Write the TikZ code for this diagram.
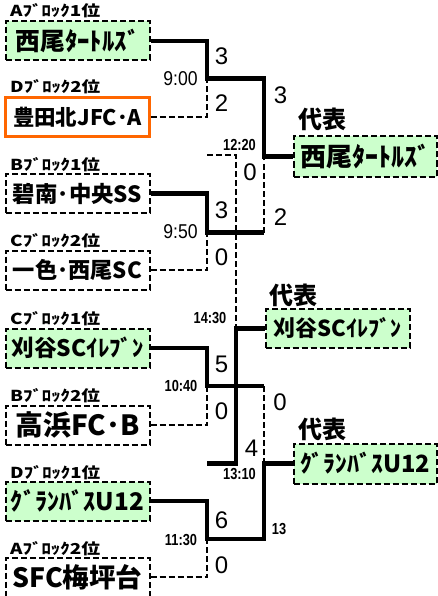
\documentclass[tikz,border=0pt]{standalone}
\usepackage{graphicx}
\usepackage{fontspec}
\setmainfont{Noto Sans CJK JP}
\newfontfamily\lib{Liberation Sans}
\definecolor{boxgreen}{HTML}{CCFFCC}
\definecolor{orangeb}{HTML}{FF6600}
\newcommand{\nm}[2]{\resizebox{#1pt}{!}{\bfseries\fontsize{22}{22}\selectfont #2}}
\newcommand{\blab}[1]{\resizebox{90pt}{13pt}{\bfseries\fontsize{13}{13}\selectfont #1}}
\newcommand{\tbig}[1]{\scalebox{0.88}[1]{\lib\fontsize{20}{20}\selectfont #1}}
\newcommand{\tsm}[1]{\scalebox{0.8}[1]{\lib\bfseries\fontsize{16}{16}\selectfont #1}}
\tikzset{
  win/.style={line width=4.5pt},
  lose/.style={line width=2pt, dash pattern=on 6pt off 3pt},
  team/.style={draw, line width=2pt, dash pattern=on 6pt off 3pt, minimum width=144pt, minimum height=39pt, inner sep=0pt},
  grn/.style={fill=boxgreen},
  blk/.style={anchor=west, inner sep=0pt},
  lbl/.style={inner sep=0pt},
  score/.style={inner sep=0pt, font=\lib\fontsize{24}{24}\selectfont},
  rep/.style={inner sep=0pt, font=\bfseries\fontsize{24}{24}\selectfont},
}
\begin{document}
\begin{tikzpicture}[x=1pt, y=-1pt]
\useasboundingbox (0,0) rectangle (438,596);
% team boxes
\node[team, grn] (t1) at (77.5,41) {\nm{124}{西尾ﾀｰﾄﾙｽﾞ}};
\node[team, draw=orangeb, solid, line width=2.5pt] (t2) at (77.5,117) {\nm{129}{豊田北JFC･A}};
\node[team] (t3) at (77.5,193.5) {\nm{129}{碧南･中央SS}};
\node[team] (t4) at (77.5,270) {\nm{129}{一色･西尾SC}};
\node[team, grn] (t5) at (77.5,348) {\nm{132}{刈谷SCｲﾚﾌﾞﾝ}};
\node[team] (t6) at (77.5,425) {\nm{124}{高浜FC･B}};
\node[team, grn] (t7) at (77.5,501) {\nm{133}{ｸﾞﾗﾝﾊﾞｽU12}};
\node[team] (t8) at (77.5,577) {\nm{130}{SFC梅坪台}};
% block labels
\node[blk] (l1) at (10,10.5) {\blab{Aﾌﾞﾛｯｸ1位}};
\node[blk] (l2) at (10,87) {\blab{Dﾌﾞﾛｯｸ2位}};
\node[blk] (l3) at (10,164.5) {\blab{Bﾌﾞﾛｯｸ1位}};
\node[blk] (l4) at (10,241) {\blab{Cﾌﾞﾛｯｸ2位}};
\node[blk] (l5) at (10,318.5) {\blab{Cﾌﾞﾛｯｸ1位}};
\node[blk] (l6) at (10,396) {\blab{Bﾌﾞﾛｯｸ2位}};
\node[blk] (l7) at (10,472.5) {\blab{Dﾌﾞﾛｯｸ1位}};
\node[blk] (l8) at (10,549) {\blab{Aﾌﾞﾛｯｸ2位}};
% representative boxes
\node[team, grn, minimum width=143pt, minimum height=40pt] (r1) at (365,156.5) {\nm{130}{西尾ﾀｰﾄﾙｽﾞ}};
\node[team, grn, minimum width=144pt] (r2) at (337.5,328.5) {\nm{128}{刈谷SCｲﾚﾌﾞﾝ}};
\node[team, grn, minimum width=143pt, minimum height=40pt] (r3) at (365,463.5) {\nm{130}{ｸﾞﾗﾝﾊﾞｽU12}};
\node[rep] (d1) at (322,119) {代表};
\node[rep] (d2) at (293,295) {代表};
\node[rep] (d3) at (322,429) {代表};
% junctions
\coordinate (j1) at (207,78.5);
\coordinate (j2) at (207,232.5);
\coordinate (j3) at (207,386);
\coordinate (j4) at (207,539);
\coordinate (s1) at (264,156.5);
\coordinate (s2) at (264,463.5);
\coordinate (m) at (236,328.5);
\coordinate (a) at (207,155);
\coordinate (b) at (207,463.5);
% connectors
\draw[lose] (t2.east) -| (j1);
\draw[win] (t1.east) -| (j1) -| (s1) -- (r1.west);
\draw[lose] (t4.east) -| (j2);
\draw[lose] (j2 -| s1) -- (s1);
\draw[win] (t3.east) -| (j2) -- (j2 -| s1);
\draw[lose] (t6.east) -| (j3);
\draw[lose] (j3 -| s2) -- (s2);
\draw[lose] (t8.east) -| (j4);
\draw[win] (t7.east) -| (j4) -| (s2) -- (r3.west);
\draw[lose] (a) -| (m);
\draw[win] (b) -| (m) -- (r2.west);
\draw[win] (t5.east) -| (j3) -- (j3 -| s2);
% times
\node[lbl] (k1) at (180.5,78.5) {\tbig{9:00}};
\node[lbl] (k2) at (180.5,232) {\tbig{9:50}};
\node[lbl] (k3) at (181,386) {\tsm{10:40}};
\node[lbl] (k4) at (181,540) {\tsm{11:30}};
\node[lbl] (k5) at (239.5,145) {\tsm{12:20}};
\node[lbl] (k6) at (210,318) {\tsm{14:30}};
\node[lbl] (k7) at (239.5,473.5) {\tsm{13:10}};
\node[lbl] (k8) at (279,528.5) {\tsm{13}};
% scores
\node[score] (c1) at (221.5,56.5) {3};
\node[score] (c2) at (221.5,103.5) {2};
\node[score] (c3) at (280.5,95.5) {3};
\node[score] (c4) at (250,172.5) {0};
\node[score] (c5) at (280.5,217.5) {2};
\node[score] (c6) at (221.5,210.5) {3};
\node[score] (c7) at (221.5,257) {0};
\node[score] (c8) at (221.5,364.5) {5};
\node[score] (c9) at (221.5,411) {0};
\node[score] (c10) at (280,402.5) {0};
\node[score] (c11) at (251.5,448.5) {4};
\node[score] (c12) at (221.5,520) {6};
\node[score] (c13) at (221.5,565) {0};
\end{tikzpicture}
\end{document}
